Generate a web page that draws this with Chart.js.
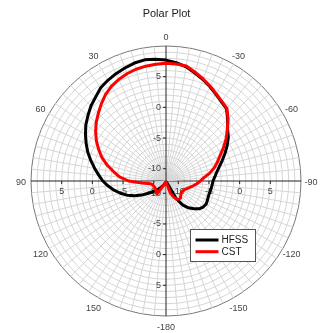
<!DOCTYPE html>
<html>
<head>
<meta charset="utf-8">
<script src="https://cdn.jsdelivr.net/npm/chart.js@4.4.0/dist/chart.umd.min.js"></script>
<style>
  html, body { margin: 0; padding: 0; background: #fff; }
  canvas { display: block; }
</style>
</head>
<body>
<canvas id="polar" width="323" height="333"></canvas>
<script>
// angle of each spoke in degrees, clockwise from the top (0, -5 ... -180, 175 ... 5)
const angles = [
    0, -5, -10, -15, -20, -25, -30, -35, -40, -45, -50, -55, -60, -65, -70, -75, -80, -85, -90,
    -95, -100, -105, -110, -115, -120, -125, -130, -135, -140, -145, -150, -155, -160, -165, -170, -175, -180,
    175, 170, 165, 160, 155, 150, 145, 140, 135, 130, 125, 120, 115, 110, 105, 100, 95,
    90, 85, 80, 75, 70, 65, 60, 55, 50, 45, 40, 35, 30, 25, 20, 15, 10, 5
];

// gain in dB, same order as angles
const hfss = [
    7.7, 7.35, 6.9, 6.2, 5.6, 4.95, 4.3, 3.75, 3.35, 2.2, 1.1, 0.4, -0.5, -1.4, -2.25, -3.0, -3.6, -4.0, -4.35,
    -4.45, -4.55, -4.65, -4.65, -4.55, -4.45, -4.6, -4.95, -5.6, -6.3, -7.2, -8.7, -11.8, -11.8, -11.8, -11.8, -11.8, -11.8,
    -11.8, -11.8, -11.8, -11.7, -11.5, -11.3, -10.9, -10.5, -10.0, -9.4, -8.5, -7.4, -6.35, -5.25, -4.3, -3.4, -2.55,
    -1.7, -1.0, -0.2, 0.65, 1.55, 2.35, 3.15, 3.95, 4.6, 5.3, 5.85, 6.55, 6.95, 7.3, 7.6, 7.9, 8.05, 7.9
];

const cst = [
    7.18, 7.15, 7.03, 6.35, 5.7, 5.05, 4.4, 3.85, 3.45, 2.3, 1.05, -0.05, -1.2, -2.3, -3.1, -3.9, -4.8, -5.8, -6.4,
    -6.95, -7.5, -8.0, -8.4, -8.7, -8.8, -8.9, -8.8, -8.6, -8.35, -8.35, -8.6, -9.2, -9.9, -11.5, -11.8, -11.8, -11.8,
    -11.8, -11.8, -11.8, -11.8, -11.6, -11.2, -9.4, -9.55, -9.7, -9.8, -9.85, -9.9, -9.85, -9.8, -9.7, -9.45, -8.1,
    -5.9, -4.4, -3.35, -2.1, -0.9, 0.1, 1.1, 2.0, 2.85, 3.6, 4.4, 5.2, 5.8, 6.25, 6.6, 6.85, 7.0, 7.1
];

const radialTicks = [-10, -5, 0, 5];

const FONT = '"Liberation Sans", Arial, sans-serif';

// tick labels on the four half-axes and the angle labels round the rim
const axisLabels = {
    id: 'axisLabels',
    beforeDatasetsDraw(chart) {
        const s = chart.scales.r;
        const c = chart.ctx;
        const cx = s.xCenter, cy = s.yCenter;
        c.save();
        c.font = '9px ' + FONT;
        c.fillStyle = '#444';
        c.strokeStyle = '#222';
        c.lineWidth = 1;
        radialTicks.forEach(v => {
            const d = s.getDistanceFromCenterForValue(v);
            c.beginPath();
            c.moveTo(cx - 3, cy - d); c.lineTo(cx, cy - d);
            c.moveTo(cx - 3, cy + d); c.lineTo(cx, cy + d);
            c.moveTo(cx - d, cy); c.lineTo(cx - d, cy + 3);
            c.moveTo(cx + d, cy); c.lineTo(cx + d, cy + 3);
            c.stroke();
            c.textAlign = 'right';
            c.textBaseline = 'middle';
            c.fillText(v, cx - 5, cy - d);
            c.fillText(v, cx - 5, cy + d);
            c.textAlign = 'center';
            c.fillText(v, cx - d, cy + 11);
            c.fillText(v, cx + d, cy + 11);
        });
        c.textAlign = 'center';
        c.textBaseline = 'middle';
        angles.forEach((a, i) => {
            if (a % 30 !== 0) return;
            const p = s.getPointPosition(i, s.drawingArea + 10);
            c.fillText(a, p.x, p.y + 1.5);
        });
        c.restore();
    }
};

const boxLegend = {
    id: 'boxLegend',
    afterDraw(chart) {
        const c = chart.ctx;
        const x = 190.5, y = 229.5, w = 65, h = 32;
        c.save();
        c.fillStyle = '#fff';
        c.fillRect(x, y, w, h);
        c.strokeStyle = '#555';
        c.lineWidth = 1;
        c.strokeRect(x, y, w, h);
        c.font = '10px ' + FONT;
        c.textAlign = 'left';
        c.textBaseline = 'middle';
        chart.data.datasets.forEach((ds, i) => {
            const ly = y + 10.5 + i * 11.7;
            c.strokeStyle = ds.borderColor;
            c.lineWidth = 3;
            c.beginPath();
            c.moveTo(x + 5, ly);
            c.lineTo(x + 28, ly);
            c.stroke();
            c.fillStyle = '#222';
            c.fillText(ds.label, x + 31, ly + 0.5);
        });
        c.restore();
    }
};

new Chart(document.getElementById('polar'), {
    type: 'radar',
    data: {
        labels: angles.map(String),
        datasets: [
            { label: 'HFSS', data: hfss, borderColor: '#000000', order: 1 },
            { label: 'CST', data: cst, borderColor: '#ff0000', order: 0 },
        ],
    },
    options: {
        responsive: false,
        animation: false,
        devicePixelRatio: 1,
        layout: { padding: { left: 31.5, right: 21.5, top: 0, bottom: 16.5 } },
        elements: {
            line: { borderWidth: 3, tension: 0, fill: false, borderJoinStyle: 'round' },
            point: { radius: 0, hoverRadius: 0 },
        },
        plugins: {
            legend: { display: false },
            tooltip: { enabled: false },
            title: {
                display: true,
                text: 'Polar Plot',
                color: '#222',
                font: { family: FONT, size: 11, weight: 'normal' },
                padding: { top: 7, bottom: 26.3 },
            },
        },
        scales: {
            r: {
                min: -12,
                max: 10,
                ticks: { stepSize: 1, display: false },
                pointLabels: { display: false },
                grid: {
                    circular: true,
                    color: ctx => ctx.tick && ctx.tick.value === 10 ? '#777' : '#d6d6d6',
                    lineWidth: 1,
                },
                angleLines: {
                    color: ctx => ctx.index % 18 === 0 ? '#222' : '#d6d6d6',
                    lineWidth: 1,
                },
            },
        },
    },
    plugins: [axisLabels, boxLegend],
});
</script>
</body>
</html>
